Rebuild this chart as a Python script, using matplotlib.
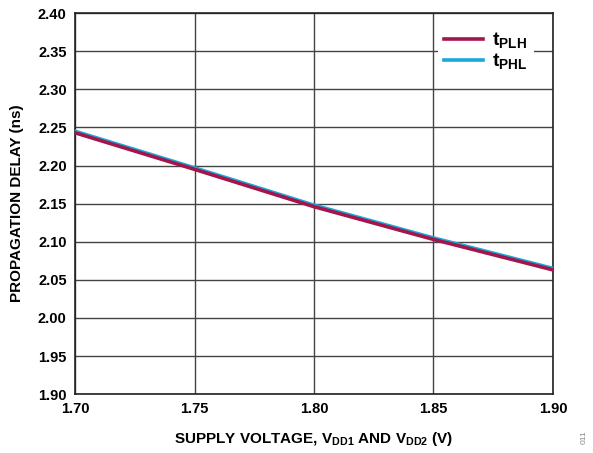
import matplotlib
matplotlib.use("Agg")
import matplotlib.pyplot as plt

plt.rcParams["font.family"] = ["Liberation Sans", "DejaVu Sans"]
plt.rcParams["font.weight"] = "bold"

# Data
vdd = [1.70, 1.75, 1.80, 1.85, 1.90]
t_plh = [2.243, 2.195, 2.146, 2.103, 2.063]
t_phl = [2.245, 2.197, 2.148, 2.105, 2.065]

xticks = [1.70, 1.75, 1.80, 1.85, 1.90]
yticks = [1.90, 1.95, 2.00, 2.05, 2.10, 2.15, 2.20, 2.25, 2.30, 2.35, 2.40]

RED = "#A3154B"
BLUE = "#1BA8D8"
GRID = "#444444"

fig = plt.figure(figsize=(5.93, 4.53), dpi=100)
ax = fig.add_axes([0.1265, 0.130, 0.806, 0.841])

ax.plot(vdd, t_phl, color=BLUE, lw=2.6, label="t$_{\\mathregular{PHL}}$", zorder=3)
ax.plot(vdd, t_plh, color=RED, lw=2.6, label="t$_{\\mathregular{PLH}}$", zorder=4)

ax.set_xlim(1.70, 1.90)
ax.set_ylim(1.90, 2.40)
ax.set_xticks(xticks)
ax.set_yticks(yticks)
ax.set_xticklabels([f"{v:.2f}" for v in xticks])
ax.set_yticklabels([f"{v:.2f}" for v in yticks])
ax.tick_params(length=0, labelsize=10.5, pad=6)
for lab in ax.get_xticklabels() + ax.get_yticklabels():
    lab.set_fontweight("bold")

ax.grid(True, color=GRID, lw=1.0)
ax.set_axisbelow(True)
for s in ax.spines.values():
    s.set_color("#222222")
    s.set_linewidth(1.2)

ax.set_xlabel("SUPPLY VOLTAGE, V$_{\\mathregular{DD1}}$ AND V$_{\\mathregular{DD2}}$ (V)",
              fontsize=11, fontweight="bold", labelpad=10)
ax.set_ylabel("PROPAGATION DELAY (ns)", fontsize=11, fontweight="bold", labelpad=10)

handles, labels = ax.get_legend_handles_labels()
leg = ax.legend(handles[::-1], labels[::-1], loc="upper right",
                bbox_to_anchor=(0.98, 0.995), frameon=True,
                fancybox=False, framealpha=1, edgecolor="none",
                prop={"size": 14, "weight": "bold"}, handlelength=2.0,
                handletextpad=0.5, borderpad=0.3, labelspacing=0.05)
for h in leg.get_lines():
    h.set_linewidth(2.6)

fig.text(0.985, 0.02, "011", rotation=90, fontsize=6, color="#888888",
         ha="center", va="bottom", fontweight="normal")

fig.savefig("out.png", dpi=100)
